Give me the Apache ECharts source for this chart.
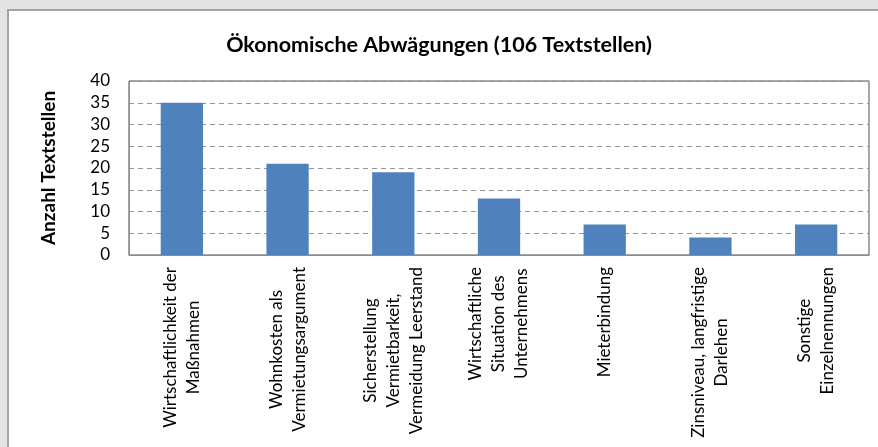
<!DOCTYPE html>
<html>
<head>
<meta charset="utf-8">
<script src="https://cdn.jsdelivr.net/npm/echarts@6/dist/echarts.min.js"></script>
<style>
  html, body { margin: 0; padding: 0; background: #e3e3e3; overflow: hidden; }
  #frame { position: absolute; left: 7px; top: 9px; width: 900px; height: 500px;
           background: #ffffff; border-left: 2px solid #a3a3a3; border-top: 2px solid #a3a3a3; }
  #chart { position: absolute; left: 0; top: 0; width: 878px; height: 447px; }
</style>
</head>
<body>
<div id="frame"></div>
<div id="chart"></div>
<script>
// Categories of economic considerations and their number of text passages
const categories = [
  'Wirtschaftlichkeit der\nMaßnahmen',
  'Wohnkosten als\nVermietungsargument',
  'Sicherstellung\nVermietbarkeit,\nVermeidung Leerstand',
  'Wirtschaftliche\nSituation des\nUnternehmens',
  'Mieterbindung',
  'Zinsniveau, langfristige\nDarlehen',
  'Sonstige\nEinzelnennungen'
];
const counts = [35, 21, 19, 13, 7, 4, 7];
const yTicks = [0, 5, 10, 15, 20, 25, 30, 35, 40];

const FONT = 'Lato';

const chart = echarts.init(document.getElementById('chart'), null, { renderer: 'canvas' });
chart.setOption({
  backgroundColor: 'transparent',
  animation: false,
  title: {
    text: 'Ökonomische Abwägungen (106 Textstellen)',
    left: 'center',
    top: 29,
    textStyle: { fontFamily: FONT, fontSize: 21.5, fontWeight: 'bold', color: '#000' }
  },
  grid: { left: 129, right: 9, top: 81, bottom: 192, show: true, borderColor: '#4d4d4d', borderWidth: 1, backgroundColor: '#fff' },
  xAxis: {
    type: 'category',
    data: categories,
    axisTick: { show: false },
    axisLine: { show: true, lineStyle: { color: '#8c8c8c', width: 1 } },
    axisLabel: {
      rotate: 90,
      interval: 0,
      margin: 12,
      fontFamily: FONT,
      fontSize: 17,
      color: '#000',
      lineHeight: 23,
      formatter: function (v) {
        return v.split('\n').map(function (s) { return '{c|' + s + '}'; }).join('\n');
      },
      rich: { c: { align: 'center', fontFamily: FONT, fontSize: 17, lineHeight: 23, color: '#000' } }
    }
  },
  yAxis: {
    type: 'value',
    min: yTicks[0],
    max: yTicks[yTicks.length - 1],
    interval: yTicks[1] - yTicks[0],
    name: 'Anzahl Textstellen',
    nameLocation: 'middle',
    nameRotate: 90,
    nameGap: 71,
    nameTextStyle: { fontFamily: FONT, fontSize: 19, fontWeight: 'bold', color: '#000' },
    axisLine: { show: true, lineStyle: { color: '#8c8c8c', width: 1 } },
    axisTick: { show: false },
    axisLabel: { margin: 19, fontFamily: FONT, fontSize: 17, color: '#000' },
    splitLine: { show: true, lineStyle: { color: '#969696', type: [5, 4], width: 1 } }
  },
  series: [{
    type: 'bar',
    data: counts,
    barWidth: '40%',
    itemStyle: { color: '#4f81bd' }
  }]
});
</script>
</body>
</html>
